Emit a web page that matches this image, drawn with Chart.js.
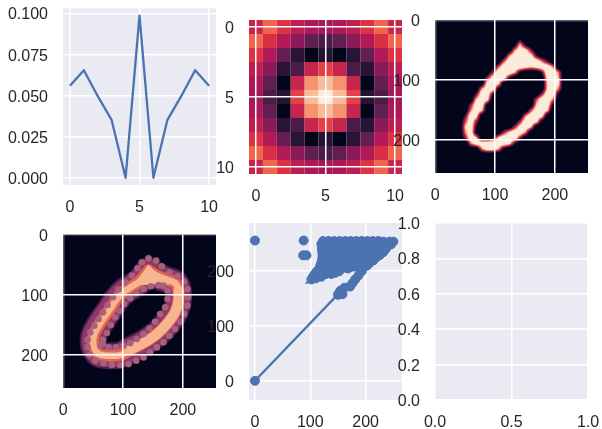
<!DOCTYPE html>
<html>
<head>
<meta charset="utf-8">
<script src="https://cdn.jsdelivr.net/npm/chart.js@4"></script>
<style>
  body { margin: 0; background: #fff; }
  #wrap { position: relative; width: 602px; height: 429px; overflow: hidden; }
  canvas { position: absolute; left: 0; top: 0; }
</style>
</head>
<body>
<div id="wrap"></div>
<script>
// panel 1: kernel profile
const profileX = [0, 1, 2, 3, 4, 5, 6, 7, 8, 9, 10];
const profileY = [0.056, 0.0655, 0.0497, 0.0351, 0, 0.0988, 0, 0.0351, 0.0497, 0.0655, 0.056];
const profileXTicks = [0, 5, 10];
const profileYTicks = [0, 0.025, 0.05, 0.075, 0.1];

// panel 2: kernel as 11x11 image
const kernelTicks = [0, 5, 10];
const kernel = [
  [0.50, 0.68, 0.56, 0.47, 0.43, 0.41, 0.43, 0.47, 0.56, 0.68, 0.50],
  [0.68, 0.55, 0.44, 0.35, 0.25, 0.20, 0.25, 0.35, 0.44, 0.55, 0.68],
  [0.56, 0.44, 0.26, 0.11, 0.00, 0.10, 0.00, 0.11, 0.26, 0.44, 0.56],
  [0.47, 0.35, 0.11, 0.20, 0.50, 0.60, 0.50, 0.20, 0.11, 0.35, 0.47],
  [0.43, 0.25, 0.00, 0.50, 0.78, 0.88, 0.78, 0.50, 0.00, 0.25, 0.43],
  [0.41, 0.20, 0.10, 0.60, 0.88, 1.00, 0.88, 0.60, 0.10, 0.20, 0.41],
  [0.43, 0.25, 0.00, 0.50, 0.78, 0.88, 0.78, 0.50, 0.00, 0.25, 0.43],
  [0.47, 0.35, 0.11, 0.20, 0.50, 0.60, 0.50, 0.20, 0.11, 0.35, 0.47],
  [0.56, 0.44, 0.26, 0.11, 0.00, 0.10, 0.00, 0.11, 0.26, 0.44, 0.56],
  [0.68, 0.55, 0.44, 0.35, 0.25, 0.20, 0.25, 0.35, 0.44, 0.55, 0.68],
  [0.50, 0.68, 0.56, 0.47, 0.43, 0.41, 0.43, 0.47, 0.56, 0.68, 0.50],
];

// panel 3: the digit, 28 rows of 28 intensities (0-9)
const imageTicks = [0, 100, 200];
const digit = [
  '0000000000000000000000000000',
  '0000000000000000000000000000',
  '0000000000000000000000000000',
  '0000000000000002000000000000',
  '0000000000000017200000000000',
  '0000000000000069840000000000',
  '0000000000000699983000000000',
  '0000000000005999999630000000',
  '0000000000059999878996000000',
  '0000000000499972000399600000',
  '0000000004899300000089700000',
  '0000000008981000000079800000',
  '0000000069920000000079600000',
  '0000000399300000000499200000',
  '0000000798000000005996000000',
  '0000004991000000007992000000',
  '0000006970000000059970000000',
  '0000039800000000699800000000',
  '0000059400000004998100000000',
  '0000079200000048970000000000',
  '0000069100004799600000000000',
  '0000049700279994000000000000',
  '0000006999999830000000000000',
  '0000000069972000000000000000',
  '0000000000000000000000000000',
  '0000000000000000000000000000',
  '0000000000000000000000000000',
  '0000000000000000000000000000',
];

// panel 4: centre line of the filtered digit and its bead chains, in image pixels
const ringX = [142.6, 162, 187, 192.7, 192.7, 187, 173.2, 156.5, 134.2, 112, 95.2, 75.8, 59, 50.7, 51.8, 64.6, 78.5, 89.7, 103.6, 125.9, 142.6];
const ringY = [59.7, 70.8, 80.3, 93, 109.8, 129.3, 148.8, 165.5, 180.5, 191.7, 200.6, 201.7, 198.9, 185, 165.5, 143.2, 123.7, 107, 93, 79.2, 59.7];
const tipX = [142.6, 132, 118, 150, 178, 158];
const tipY = [50, 66, 84, 82, 82, 65];
const outerBeadX = [142.6, 155.4, 164.9, 177.7, 191, 202.2, 207.8, 208.9, 207.8, 202.2, 195.5, 187.1, 177.7, 167.7, 156.5, 145.4, 134.2, 122, 109.2, 95.2, 81.3, 67.4, 53.5, 44, 40.7, 40.7, 45.1, 51.8, 59, 66.3, 74.1, 83, 92.5, 103.6, 114.7, 124.2, 131.4];
const outerBeadY = [39.1, 43, 52.4, 62.5, 69.1, 78, 90.3, 104.2, 118.2, 132.1, 144.9, 157.2, 168.3, 179.4, 187.8, 196.1, 204.5, 210.1, 215.6, 217.3, 217.3, 214, 210.1, 200.6, 187.8, 175, 162.7, 151.6, 140.4, 129.3, 117, 104.2, 91.4, 79.2, 68, 55.8, 45.8];
const innerBeadX = [159.3, 146.5, 134.2, 122, 112, 101.9, 94.1, 86.9, 79.6, 73, 66.3, 61.8, 66, 75.7, 88.6, 100.8, 112, 123.1, 134.2, 144.3, 153.7, 162.1, 170.4, 174.3, 174.3, 167.7];
const innerBeadY = [83.6, 85.9, 90.3, 97, 105.9, 115.4, 126.5, 137.7, 150.5, 163.8, 175, 185, 182, 187.8, 187.8, 185, 180.5, 173.9, 165.5, 156, 144.9, 132.1, 120.9, 107, 93, 84.7];

// panel 5: pixel values against each other
const scatterTicks = [0, 100, 200];
const scatterPoints = [
  [0, 0], [0, 256], [88, 256], [87, 229], [93, 229],
  [123, 255], [133, 255], [143, 255], [153, 255], [163, 255], [173, 255], [183, 255], [193, 255], [203, 255], [213, 255], [223, 255], [232, 254], [243, 254], [250, 254],
  [120, 250], [128, 250], [138, 250], [148, 250], [158, 250], [168, 250], [178, 250], [188, 250], [198, 250], [208, 250], [218, 250], [228, 250], [238, 250], [246, 249],
  [121, 245], [131, 245], [141, 245], [151, 245], [161, 245], [171, 245], [181, 245], [191, 245], [201, 245], [211, 245], [221, 245], [231, 245], [240, 246],
  [121, 240], [127, 240], [137, 240], [147, 240], [157, 240], [167, 240], [177, 240], [187, 240], [197, 240], [207, 240], [217, 240], [227, 240], [236, 240],
  [122, 235], [132, 235], [142, 235], [152, 235], [162, 235], [172, 235], [182, 235], [192, 235], [202, 235], [212, 235], [222, 235], [232, 235],
  [122, 230], [127, 230], [137, 230], [147, 230], [157, 230], [167, 230], [177, 230], [187, 230], [197, 230], [207, 230], [217, 230], [226, 230],
  [122, 225], [132, 225], [142, 225], [152, 225], [162, 225], [172, 225], [182, 225], [192, 225], [202, 225], [212, 225], [220, 226],
  [121, 220], [127, 220], [137, 220], [147, 220], [157, 220], [167, 220], [177, 220], [187, 220], [197, 220], [207, 220], [214, 220],
  [120, 215], [130, 215], [140, 215], [150, 215], [160, 215], [170, 215], [180, 215], [190, 215], [200, 215], [207, 215],
  [118, 210], [125, 210], [135, 210], [145, 210], [155, 210], [165, 210], [175, 210], [185, 210], [195, 210], [202, 210],
  [117, 205], [127, 205], [137, 205], [147, 205], [157, 205], [168, 205], [192, 205],
  [112, 200], [122, 200], [132, 200], [142, 200], [152, 200],
  [108, 195], [118, 195], [128, 195], [138, 195], [145, 197],
  [105, 190], [113, 191],
  [102, 185], [110, 187], [120, 190],
  [193, 200], [187, 192], [181, 185], [176, 178], [172, 172], [162, 170], [158, 158], [155, 165], [153, 162], [150, 157],
];
const scatterLineX = [0, 152];
const scatterLineY = [0, 160];
// the dense part of the cloud, where the points run together
const cloudX = [123, 223, 240, 232, 217, 207, 192, 165, 140, 120, 102, 108, 117, 120, 122, 120];
const cloudY = [255, 255, 250, 235, 225, 215, 205, 205, 197, 190, 185, 195, 205, 215, 235, 250];

// panel 6: empty axes
const emptyXTicks = [0, 0.5, 1];
const emptyYTicks = [0, 0.2, 0.4, 0.6, 0.8, 1];

// rocket colour map stops
const rocket = ['#03051a', '#35193e', '#701f57', '#ad1759', '#e13342', '#f37651', '#f6b48f', '#faebdd'].map((h) => [
  parseInt(h.slice(1, 3), 16),
  parseInt(h.slice(3, 5), 16),
  parseInt(h.slice(5, 7), 16),
]);
const rocketColor = (t) => {
  const p = Math.max(0, Math.min(1, t)) * (rocket.length - 1);
  const i = Math.min(rocket.length - 2, Math.floor(p));
  const f = p - i;
  return [0, 1, 2].map((k) => Math.round(rocket[i][k] + (rocket[i + 1][k] - rocket[i][k]) * f));
};

const W = 602;
const H = 429;
const Y_W = 60;
const X_H = 40;

const plotBackground = (color) => ({
  id: 'plotBackground',
  beforeDraw(chart) {
    const a = chart.chartArea;
    chart.ctx.fillStyle = color;
    chart.ctx.fillRect(a.left, a.top, a.width, a.height);
  },
});

// 11x11 image, one rect per cell
const kernelCells = {
  id: 'kernelCells',
  beforeDatasetsDraw(chart) {
    const { x, y } = chart.scales;
    const ctx = chart.ctx;
    kernel.forEach((row, r) => {
      row.forEach((v, c) => {
        const x0 = x.getPixelForValue(c - 0.5);
        const x1 = x.getPixelForValue(c + 0.5);
        const y0 = y.getPixelForValue(r - 0.5);
        const y1 = y.getPixelForValue(r + 0.5);
        ctx.fillStyle = `rgb(${rocketColor(v).join(',')})`;
        ctx.fillRect(x0, y0, x1 - x0, y1 - y0);
      });
    });
  },
};

// smooth image: values are interpolated per screen pixel, then coloured
const digitImage = {
  id: 'digitImage',
  beforeDatasetsDraw(chart) {
    const { x, y } = chart.scales;
    const a = chart.chartArea;
    const w = Math.round(a.width);
    const h = Math.round(a.height);
    const img = chart.ctx.createImageData(w, h);
    const val = (r, c) => {
      const row = digit[Math.max(0, Math.min(27, r))];
      return +row[Math.max(0, Math.min(27, c))] / 9;
    };
    for (let j = 0; j < h; j++) {
      const gy = y.getValueForPixel(a.top + j + 0.5) / (256 / 28) - 0.5;
      const r = Math.floor(gy);
      const fy = gy - r;
      for (let i = 0; i < w; i++) {
        const gx = x.getValueForPixel(a.left + i + 0.5) / (256 / 28) - 0.5;
        const c = Math.floor(gx);
        const fx = gx - c;
        const v = (val(r, c) * (1 - fx) + val(r, c + 1) * fx) * (1 - fy) +
          (val(r + 1, c) * (1 - fx) + val(r + 1, c + 1) * fx) * fy;
        // tighter ramp than plain bilinear, the rim in the picture is thin
        const rgb = rocketColor(Math.max(0, Math.min(1, (v - 0.22) / 0.6)));
        const o = (j * w + i) * 4;
        img.data[o] = rgb[0];
        img.data[o + 1] = rgb[1];
        img.data[o + 2] = rgb[2];
        img.data[o + 3] = 255;
      }
    }
    chart.ctx.putImageData(img, a.left, a.top);
  },
};

// y labels sit a little under their grid line in the picture
const nudgeLabels = {
  id: 'nudgeLabels',
  beforeDraw(chart) {
    if (chart.$nudged) return;
    chart.$nudged = true;
    chart.scales.y.getLabelItems().forEach((item) => {
      item.options.translation[1] += 1.5;
    });
  },
};

const axis = (min, max, ticks, image, onTop, extra) => ({
  type: 'linear',
  min,
  max,
  afterBuildTicks: (s) => {
    s.ticks = ticks.map((v) => ({ value: v }));
  },
  grid: {
    color: (c) => (image && c.tick && c.tick.value === 0 ? 'rgba(255,255,255,0.35)' : '#fff'),
    lineWidth: 1.5,
    drawTicks: false,
    z: onTop ? 1 : 0,
  },
  border: { display: false },
  ...extra,
});

// fixed axis sizes and no label padding, so the plot area lands on the box
const fixSize = (s, key, size) => {
  s[key] = size;
  s.paddingLeft = s.paddingRight = s.paddingTop = s.paddingBottom = 0;
};

const makeChart = (box, xs, ys, datasets, plugins, gridOnTop) => {
  const canvas = document.createElement('canvas');
  canvas.width = W;
  canvas.height = H;
  document.getElementById('wrap').appendChild(canvas);
  const tickFont = { family: '"Liberation Sans", Arial, sans-serif', size: 16 };
  const xScale = axis(xs.min, xs.max, xs.ticks, xs.image, gridOnTop, {
    ticks: { color: '#262626', font: tickFont, padding: 13, maxRotation: 0, autoSkip: false, callback: xs.fmt },
    afterFit: (s) => fixSize(s, 'height', X_H),
  });
  const yScale = axis(ys.min, ys.max, ys.ticks, ys.image, gridOnTop, {
    reverse: !!ys.reverse,
    ticks: { color: '#262626', font: tickFont, padding: 15, autoSkip: false, callback: ys.fmt },
    afterFit: (s) => fixSize(s, 'width', Y_W),
  });
  return new Chart(canvas.getContext('2d'), {
    type: 'scatter',
    data: { datasets },
    options: {
      responsive: false,
      animation: false,
      layout: {
        autoPadding: false,
        padding: { left: box.l - Y_W, right: W - box.r, top: box.t, bottom: H - box.b - X_H },
      },
      plugins: { legend: { display: false }, tooltip: { enabled: false } },
      scales: { x: xScale, y: yScale },
    },
    plugins: [nudgeLabels, ...plugins],
  });
};

const intFmt = (v) => String(v);
const BLUE = '#4c72b0';
const pts = (xs, ys) => xs.map((x, i) => ({ x, y: ys[i] }));

// panel 1
makeChart(
  { l: 63, r: 216, t: 8.5, b: 185 },
  { min: -0.5, max: 10.5, ticks: profileXTicks, fmt: intFmt },
  { min: -0.0044, max: 0.1031, ticks: profileYTicks, fmt: (v) => v.toFixed(3) },
  [{ data: pts(profileX, profileY), showLine: true, pointRadius: 0, borderColor: BLUE, borderWidth: 2.3, borderJoinStyle: 'round' }],
  [plotBackground('#eaeaf2')]
);

// panel 2
makeChart(
  { l: 249, r: 402, t: 20, b: 174 },
  { min: -0.5, max: 10.5, ticks: kernelTicks, fmt: intFmt },
  { min: -0.5, max: 10.5, ticks: kernelTicks, fmt: intFmt, reverse: true },
  [],
  [kernelCells],
  true
);

// panel 3
makeChart(
  { l: 435, r: 588, t: 20, b: 173 },
  { min: -0.5, max: 255.5, ticks: imageTicks, fmt: intFmt, image: true },
  { min: -0.5, max: 255.5, ticks: imageTicks, fmt: intFmt, reverse: true, image: true },
  [],
  [digitImage],
  true
);

// panel 4
const ringLayer = (xs, ys, color, width) => ({
  data: pts(xs, ys),
  showLine: true,
  pointRadius: 0,
  tension: 0.25,
  borderColor: color,
  borderWidth: width,
  borderCapStyle: 'round',
  borderJoinStyle: 'round',
});
const beads = (xs, ys) => ({
  data: pts(xs, ys),
  pointRadius: 3.3,
  pointBackgroundColor: '#a8607e',
  pointBorderColor: '#a8607e',
  pointBorderWidth: 0,
});
// datasets draw last-first, so the top layers come first
makeChart(
  { l: 63, r: 216, t: 234.5, b: 388 },
  { min: -0.5, max: 255.5, ticks: imageTicks, fmt: intFmt, image: true },
  { min: -0.5, max: 255.5, ticks: imageTicks, fmt: intFmt, reverse: true, image: true },
  [
    beads(outerBeadX, outerBeadY),
    beads(innerBeadX, innerBeadY),
    { data: pts(tipX, tipY), showLine: true, fill: 'shape', backgroundColor: '#f6b48f', pointRadius: 0, borderColor: '#f6b48f', borderWidth: 1 },
    ringLayer(ringX.slice(3, 10), ringY.slice(3, 10), '#f6b48f', 10),
    ringLayer(ringX, ringY, '#f6b48f', 6.5),
    ringLayer(ringX, ringY, '#e9634a', 12),
    ringLayer(ringX, ringY, '#8b3a68', 23),
    ringLayer(ringX, ringY, '#4a1b4e', 27),
  ],
  [plotBackground('#03051a')],
  true
);

// panel 5
makeChart(
  { l: 249, r: 402, t: 223, b: 400 },
  { min: -10.8, max: 265.7, ticks: scatterTicks, fmt: intFmt },
  { min: -35, max: 288, ticks: scatterTicks, fmt: intFmt },
  [
    { data: scatterPoints.map((p) => ({ x: p[0], y: p[1] })), pointRadius: 4.5, pointBackgroundColor: BLUE, pointBorderColor: BLUE, pointBorderWidth: 1 },
    { data: pts(scatterLineX, scatterLineY), showLine: true, pointRadius: 0, borderColor: BLUE, borderWidth: 2.3 },
    { data: pts(cloudX, cloudY), showLine: true, fill: 'shape', backgroundColor: BLUE, pointRadius: 0, borderColor: BLUE, borderWidth: 6 },
  ],
  [plotBackground('#eaeaf2')]
);

// panel 6
makeChart(
  { l: 435, r: 588, t: 223, b: 400 },
  { min: 0, max: 1, ticks: emptyXTicks, fmt: (v) => v.toFixed(1) },
  { min: 0, max: 1, ticks: emptyYTicks, fmt: (v) => v.toFixed(1) },
  [],
  [plotBackground('#eaeaf2')]
);
</script>
</body>
</html>
